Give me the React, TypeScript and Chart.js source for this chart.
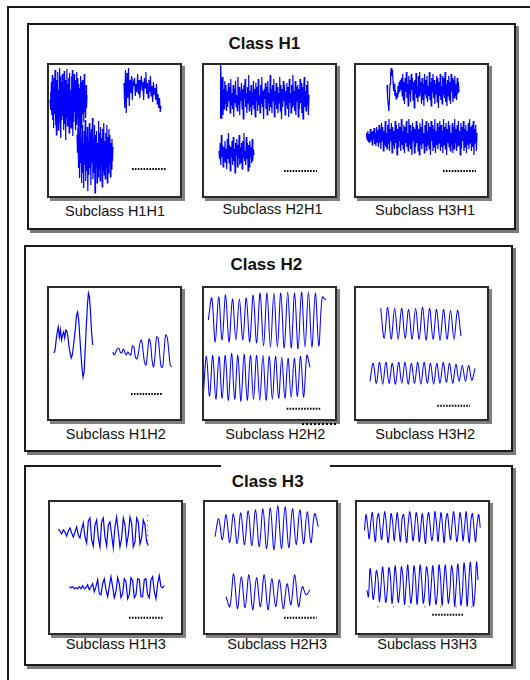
import React, { useEffect, useRef } from 'react';
import { Chart, registerables } from 'chart.js';

Chart.register(...registerables);

// ---------------- data (signal amplitudes, positive = up) ----------------
const CLASS_TITLES = ['Class H1', 'Class H2', 'Class H3'];
const SUBCLASS_LABELS = [
  ['Subclass H1H1', 'Subclass H2H1', 'Subclass H3H1'],
  ['Subclass H1H2', 'Subclass H2H2', 'Subclass H3H2'],
  ['Subclass H1H3', 'Subclass H2H3', 'Subclass H3H3'],
];

// Class H1 - subclass H1H1
const H1H1_A = [0, 8, -10, 18, -15, 25, -20, 12, -28, 22, -14, 30, -25, 15, -35, 20, -18, 28, -30, 10, -22, 32, -12, 24, -38, 18, -20, 26, -16, 14, -30, 29, -24, 20, -40, 12, -18, 31, -26, 16, -14, 22, -33, 27, -20, 10, -28, 24, -15, 30, -36, 18, -22, 26, -12, 20, -30, 14, -25, 28, -18, 22, -34, 16, -20, 12, -26, 24, -16, 18, -28, 20, -14, 10, -22, 26, -12, 8, -18, 15, -8, 5];
const H1H1_B = [5, -20, 18, -25, 15, -10, 20, -18, 8, -5, 12, -12, 6, 2, 10, -8, 4, -4, 14, -6, 8, -10, 3, 12, -2, 6, -12, 10, 0, 16, -6, 5, -10, 8, -4, 12, -8, 2, -14, 6, -6, 0, -12, 4, -16, -6, -20, -10, -24, -18];
const H1H1_C = [18, 0, 25, -15, 20, -25, 30, -10, 15, -30, 28, -20, 10, -35, 22, -12, 33, -28, 16, -18, 26, -38, 12, -22, 30, -15, 20, -32, 24, -10, 35, -26, 14, -20, 28, -40, 18, -14, 22, -30, 10, -24, 32, -16, 20, -28, 26, -12, 15, -34, 24, -18, 30, -22, 12, -26, 20, -14, 28, -30, 16, -20, 24, -10, 18, -24, 10, -16, 14, -8, 6];

// subclass H2H1
const H2H1_A = [
  -21, 35, 14, -22, 20, -18, 8, -12, 16, -6, 12, -14, 6, -10, 14,
  -4, 10, -16, 18, -8, 4, -12, 12, -20, 8, -6, 16, -10, 2, -14,
  20, -8, 10, -18, 6, -4, 14, -12, 8, -22, 12, -2, 18, -10, 4,
  -16, 10, -6, 22, -14, 6, -10, 12, -18, 4, -8, 16, -12, 8, -20,
  14, -4, 10, -14, 18, -8, 2, -16, 12, -6, 20, -10, 6, -22, 8,
  -2, 14, -12, 10, -18, 16, -6, 4, -14, 22, -10, 8, -16, 12, -4,
  18, -20, 6, -8, 14, -12, 10, -16, 4, -6, 20, -14, 12, -22, 8,
  -10, 16, -4, 12, -18, 6, -8, 14, -12, 10, -20, 18, -6, 4, -16,
  12, -10, 22, -8, 6, -14, 16, -18, 10, -4, 12, -20, 8, -12, 18,
  -6, 14, -16, 10, -22, 4, 20, -10, 6, -14, 12, -8, 16, -18, 2,
];
const H2H1_B = [
  2, -6, 10, -12, 18, -4, 8, -14, 6, -8, 12, -10, 4, -16, 14,
  -6, 20, -10, 8, -18, 6, -4, 12, -12, 16, -8, 4, -20, 10, -2,
  14, -14, 8, -6, 18, -12, 6, -10, 10, -16, 12, -4, 20, -8, 2,
  -12, 16, -6, 10, -18, 8, -14, 12, -4, 6, -10, 14, -8, 4, -2,
];

// subclass H3H1
const H3H1_A = [
  3, -10, -16, -23, -12, 4, 15, 20, 12, 18, 6, -3, 4, -8, -2, -11, -5, -9, 2, -6, 6, -4, 8, -2, 10,
  -8, 14, -12, 6, -16, 10, -4, 16, -10, 4, -18, 12, -6, 8, -14, 14, -2, 10, -12, 6,
  -20, 8, -6, 15, -10, 2, -14, 12, -8, 16, -4, 6, -16, 10, -12, 4, -18, 14, -6, 8,
  -10, 12, -14, 2, -8, 16, -12, 6, -18, 10, -4, 14, -10, 8, -16, 4, -6, 12, -14, 10,
  -20, 6, -8, 14, -12, 2, -16, 12, -6, 10, -10, 16, -14, 4, -18, 8, -8, 12, -12, 6,
  -16, 14, -4, 10, -14, 8, -10, 12, -8, 4, -12, 10, -6, 6, -4,
];
const H3H1_B = [
  0, 4, -3, 6, -5, 3, -6, 8, -4, 5, -8, 6, -2, 9, -7, 4, -9, 10, -5, 7,
  -10, 12, -6, 8, -12, 14, -4, 10, -14, 6, -8, 16, -10, 4, -12, 12, -6, 18, -14, 8,
  -4, 14, -16, 10, -8, 6, -12, 16, -6, 12, -18, 8, -10, 14, -4, 10, -14, 18, -8, 6,
  -12, 12, -16, 10, -6, 16, -10, 4, -14, 18, -8, 12, -12, 6, -18, 14, -4, 10, -16, 8,
  -10, 16, -6, 12, -14, 8, -18, 14, -8, 10, -12, 18, -6, 4, -16, 12, -10, 16, -14, 6,
  -8, 14, -12, 10, -18, 16, -4, 12, -14, 8, -10, 18, -16, 6, -8, 14, -12, 10, -6, 16,
  -14, 12, -10, 6, -16, 18, -8, 10, -12, 14, -18, 8, -6, 16, -10, 12, -14, 4, -8, 14,
  -16, 10, -12, 18, -6, 8, -14, 12, -10, 16, -8, 6, -18, 14, -12, 10, -4, 16, -14, 8,
  -10, 12, -16, 6, -8, 14, -12, 18, -6, 10, -14, 12, -10, 16, -18, 8, -6, 12, -14, 4,
];

// Class H2
const H1H2_A = [-7, -4, 6, 14, 19, 9, 16, 6, 11, 14, 8, 16, 15, 9, -1, -7, -12, -9, -1, 9, 19, 31, 34, 26, 9, -7, -22, -31, -26, -4, 19, 39, 53, 49, 33, 13, 1];
const H1H2_B = [4, 1, 4, 7, 8, 4, 3, 7, 4, 1, 4, 2, 1, 10, 9, -1, -3, 3, 13, 16, 6, -6, -9, 3, 17, 13, -4, -11, 1, 19, 18, 3, -11, -11, 6, 21, 19, 6, -9, -11];
const H2H2_A = [0, 22, -22, 23, -20, 25, -22, 21, -20, 21, -20, 22, -22, 25, -23, 27, -26, 27, -27, 27, -27, 27, -28, 28, -28, 27, -29, 28, -27, 28, -27, 27, -26, 23, 20];
const H2H2_B = [-18, 21, -19, 22, -22, 21, -21, 22, -23, 24, -22, 22, -24, 23, -23, 22, -22, 22, -23, 22, -23, 21, -22, 21, -21, 20, -21, 19, -20, 19, -19, 21, -20, 22, 10];
const H3H2_A = [15, -15, 16, -16, 15, -16, 15, -15, 14, -16, 15, -16, 16, -17, 15, -16, 14, -17, 14, -16, 13, -16, 13, -13];
const H3H2_B = [-8, 10, -10, 11, -11, 11, -10, 10, -11, 11, -10, 11, -11, 10, -10, 11, -11, 11, -10, 10, -11, 10, -10, 11, -9, 10, -10, 9, -8, 8, -8, 8, -7, 5];

// Class H3
const H1H3_A = [2, 0, -3, 1, -1, -5, 0, 3, -2, -6, -1, 4, -4, -7, 2, 8, -6, -12, 10, 13, -9, -15, 6, 11, -7, -16, 9, 13, -6, -15, 6, 9, -4, -17, 4, 14, -1, -16, -7, 13, 6, -14, -4, 14, 8, -16, -11, 13, 9, -13, -7, 11, 6, -11, -14];
const H1H3_B = [1, 0, 1, -1, 0, -1, 1, -1, 2, -1, 0, 3, -2, 1, 4, -4, 1, 8, -6, -7, 4, 9, -2, -9, 1, 11, 1, -10, -4, 10, 4, -10, -6, 9, 6, -11, -7, 10, 7, -10, -7, 9, 8, -9, -9, 8, 9, -7, -10, 8, 11, -4, -11, 4, 12, 1, 0, 2];
const H2H3_A = [-10, 8, -13, 12, -16, 13, -17, 14, -18, 16, -19, 17, -20, 18, -22, 19, -23, 21, -22, 20, -21, 18, -18, 17, -17, 15, -16, 13, 0];
const H2H3_B = [-5, -15, 18, -17, 15, -16, 17, -18, 14, -15, 17, -18, 13, -15, 12, -17, 8, -13, 17, -15, 5, -3, 2];
const H3H3_A = [-3, 14, 2, -12, 5, 16, -2, -15, 8, 15, 0, -13, 4, 17, 3, -16, -4, 15, 6, -14, 2, 16, -1, -15, 9, 14, -3, -16, 5, 17, 4, -14, -2, 16, 7, -15, 0, 15, -2, -17, 6, 16, 2, -14, -5, 17, 5, -15, 3, 16, -1, -16, 8, 15, 0, -13, 4, 17, 2, -15, -3, 16, 6, -14, 1, 17, -2, -16, 7, 15, -1, -15, 4, 14, 0];
const H3H3_B = [-5, -12, 18, 5, -15, -4, 16, 8, -17, 0, 20, 2, -18, -6, 19, 10, -19, -2, 21, 4, -18, -5, 20, 9, -20, -1, 22, 3, -19, -7, 21, 8, -20, 0, 22, 5, -19, -6, 20, 10, -21, -2, 21, 4, -20, -8, 22, 9, -21, 1, 22, 3, -19, -6, 21, 11, -22, -1, 23, 5, -21, -7, 24, 8, -22, 2, 25, 4, -22, -9, 25, 6];
const H3H3_TICKS = [20, 36.7, 53.3, 70, 86.7, 103.3, 120];

// ---------------- layout ----------------
type Trace = { values: number[]; x0: number; x1: number; base: number; smooth?: boolean };
type PanelSpec = {
  left: number; top: number;
  traces: Trace[];
  bar: { x0: number; x1: number; y: number };
  vdots?: { x: number; y0: number; y1: number };
  ticks?: { xs: number[]; y: number };
};

const PANEL = 135;
const BORDER = 2;
const BLUE = '#0000ff';
const FONT = '"Liberation Sans", Arial, Helvetica, sans-serif';

const PANELS: PanelSpec[][] = [
  [
    { left: 47, top: 63, bar: { x0: 85, x1: 119, y: 106 }, traces: [
      { values: H1H1_A, x0: 3, x1: 40, base: 37 },
      { values: H1H1_B, x0: 77, x1: 114, base: 25 },
      { values: H1H1_C, x0: 30, x1: 66, base: 90 },
    ] },
    { left: 202, top: 63, bar: { x0: 82, x1: 115, y: 108 }, traces: [
      { values: H2H1_A, x0: 18, x1: 107, base: 34 },
      { values: H2H1_B, x0: 17, x1: 52, base: 90 },
    ] },
    { left: 354, top: 63, bar: { x0: 89, x1: 122, y: 108 }, traces: [
      { values: H3H1_A, x0: 33, x1: 105, base: 25 },
      { values: H3H1_B, x0: 12, x1: 123, base: 74 },
    ] },
  ],
  [
    { left: 47, top: 286, bar: { x0: 84, x1: 116, y: 108 }, traces: [
      { values: H1H2_A, x0: 7, x1: 45.7, base: 60 },
      { values: H1H2_B, x0: 65.7, x1: 124.7, base: 70, smooth: true },
    ] },
    { left: 202, top: 286, bar: { x0: 84.7, x1: 119, y: 122.7 }, traces: [
      { values: H2H2_A, x0: 6.3, x1: 123.7, base: 34, smooth: true },
      { values: H2H2_B, x0: 1.3, x1: 108, base: 91.3, smooth: true },
    ] },
    { left: 354, top: 286, bar: { x0: 83.3, x1: 116, y: 119.7 }, traces: [
      { values: H3H2_A, x0: 26.7, x1: 107, base: 37.3, smooth: true },
      { values: H3H2_B, x0: 16, x1: 121, base: 87.3, smooth: true },
    ] },
  ],
  [
    { left: 48, top: 500, bar: { x0: 81, x1: 115, y: 117.7 }, vdots: { x: 99.7, y0: 15, y1: 50 }, traces: [
      { values: H1H3_A, x0: 10.3, x1: 100.3, base: 31 },
      { values: H1H3_B, x0: 21.3, x1: 116.3, base: 87.7 },
    ] },
    { left: 203, top: 500, bar: { x0: 81, x1: 113.7, y: 117.7 }, traces: [
      { values: H2H3_A, x0: 12, x1: 115.3, base: 26.7, smooth: true },
      { values: H2H3_B, x0: 23, x1: 107, base: 91.7, smooth: true },
    ] },
    { left: 355, top: 500, bar: { x0: 78, x1: 112, y: 117.7 }, ticks: { xs: H3H3_TICKS, y: 109.3 }, traces: [
      { values: H3H3_A, x0: 5.7, x1: 129, base: 25, smooth: true },
      { values: H3H3_B, x0: 8.3, x1: 126.7, base: 86.7, smooth: true },
    ] },
  ],
];

const CLASS_BOXES = [
  { left: 27, top: 23, height: 207, titleX: 264.3, titleBase: 49 },
  { left: 24, top: 245, height: 207, titleX: 266.3, titleBase: 270.7 },
  { left: 24, top: 464.5, height: 201, titleX: 267.7, titleBase: 487.3 },
];
const LABEL_X = [
  [115, 272.5, 425],
  [115.8, 275.3, 425.2],
  [115.8, 277.2, 427.2],
];
const LABEL_BASE = [
  [216.7, 214.3, 215.3],
  [439.3, 439.3, 439.3],
  [649.3, 649.3, 649.3],
];

function tracePoints(t: Trace) {
  const n = t.values.length;
  return t.values.map((v, i) => ({ x: t.x0 + (i * (t.x1 - t.x0)) / (n - 1), y: t.base - v }));
}

function SignalPanel({ spec }: { spec: PanelSpec }) {
  const ref = useRef<HTMLCanvasElement>(null);
  const inner = PANEL - 2 * BORDER;
  useEffect(() => {
    if (!ref.current) return;
    const datasets: any[] = spec.traces.map((t) => ({
      data: tracePoints(t),
      borderColor: BLUE,
      borderWidth: t.smooth ? 1.05 : 1.2,
      tension: t.smooth ? 0.35 : 0,
      pointRadius: 0,
      fill: false,
      clip: false,
    }));
    datasets.push({
      data: [{ x: spec.bar.x0, y: spec.bar.y }, { x: spec.bar.x1, y: spec.bar.y }],
      borderColor: '#000',
      borderWidth: 2,
      borderDash: [1.6, 1.3],
      pointRadius: 0,
      fill: false,
    });
    if (spec.vdots) {
      datasets.push({
        data: [{ x: spec.vdots.x, y: spec.vdots.y0 }, { x: spec.vdots.x, y: spec.vdots.y1 }],
        borderColor: '#555',
        borderWidth: 1,
        borderDash: [1, 4],
        pointRadius: 0,
        fill: false,
      });
    }
    if (spec.ticks) {
      datasets.push({
        data: spec.ticks.xs.map((x) => ({ x, y: spec.ticks!.y })),
        showLine: false,
        pointRadius: 0.8,
        pointBorderWidth: 0,
        pointBackgroundColor: '#777',
        borderColor: '#777',
      });
    }
    const chart = new Chart(ref.current, {
      type: 'line',
      data: { datasets },
      options: {
        animation: false,
        responsive: false,
        maintainAspectRatio: false,
        devicePixelRatio: 1,
        events: [],
        layout: { padding: 0 },
        plugins: { legend: { display: false }, tooltip: { enabled: false } },
        scales: {
          x: { type: 'linear', min: BORDER, max: BORDER + inner, display: false },
          y: { type: 'linear', min: BORDER, max: BORDER + inner, reverse: true, display: false },
        },
      } as any,
    });
    return () => chart.destroy();
  }, []);
  return (
    <div
      style={{
        position: 'absolute', left: spec.left, top: spec.top, width: PANEL, height: PANEL,
        boxSizing: 'border-box', border: `${BORDER}px solid #2a2a2a`, background: '#fff',
        boxShadow: '3px 3px 0 #808080',
      }}
    >
      <canvas ref={ref} width={inner} height={inner} style={{ display: 'block', width: inner, height: inner }} />
    </div>
  );
}

function TextAt({ text, cx, base, size, bold }: { text: string; cx: number; base: number; size: number; bold?: boolean }) {
  const top = base - ((size - 1.117 * size) / 2 + 0.905 * size);
  return (
    <div
      style={{
        position: 'absolute', left: cx - 100, top, width: 200, textAlign: 'center',
        fontFamily: FONT, fontSize: size, lineHeight: `${size}px`, fontWeight: bold ? 'bold' : 'normal',
        color: '#111', whiteSpace: 'nowrap',
      }}
    >
      {text}
    </div>
  );
}

export default function App() {
  useEffect(() => {
    document.body.style.overflow = 'hidden';
    document.body.style.background = '#fff';
  }, []);
  return (
    <div style={{ position: 'absolute', left: 0, top: 0, width: 530, height: 680, overflow: 'hidden', background: '#fff' }}>
      {/* outer frame (right/bottom edges fall outside the picture) */}
      <div style={{ position: 'absolute', left: 7, top: 6, width: 540, height: 700, borderLeft: '2px solid #1a1a1a', borderTop: '2px solid #1a1a1a' }} />
      {CLASS_BOXES.map((b, r) => (
        <React.Fragment key={r}>
          <div
            style={{
              position: 'absolute', left: b.left, top: b.top, width: 489, height: b.height,
              boxSizing: 'border-box', border: '2px solid #1a1a1a', background: '#fff',
              boxShadow: '3px 3px 0 #7a7a7a',
            }}
          />
          {r === 2 && <div style={{ position: 'absolute', left: 221, top: b.top - 0.5, width: 109, height: 3, background: '#fff' }} />}
          <TextAt text={CLASS_TITLES[r]} cx={b.titleX} base={b.titleBase} size={17} bold />
          {PANELS[r].map((p, c) => (
            <React.Fragment key={c}>
              <SignalPanel spec={p} />
              <TextAt text={SUBCLASS_LABELS[r][c]} cx={LABEL_X[r][c]} base={LABEL_BASE[r][c]} size={14.5} />
            </React.Fragment>
          ))}
        </React.Fragment>
      ))}
      {/* stray dotted segment under the H2H2 panel */}
      <div style={{ position: 'absolute', left: 302, top: 423, width: 34, height: 0, borderTop: '2px dotted #000' }} />
    </div>
  );
}
